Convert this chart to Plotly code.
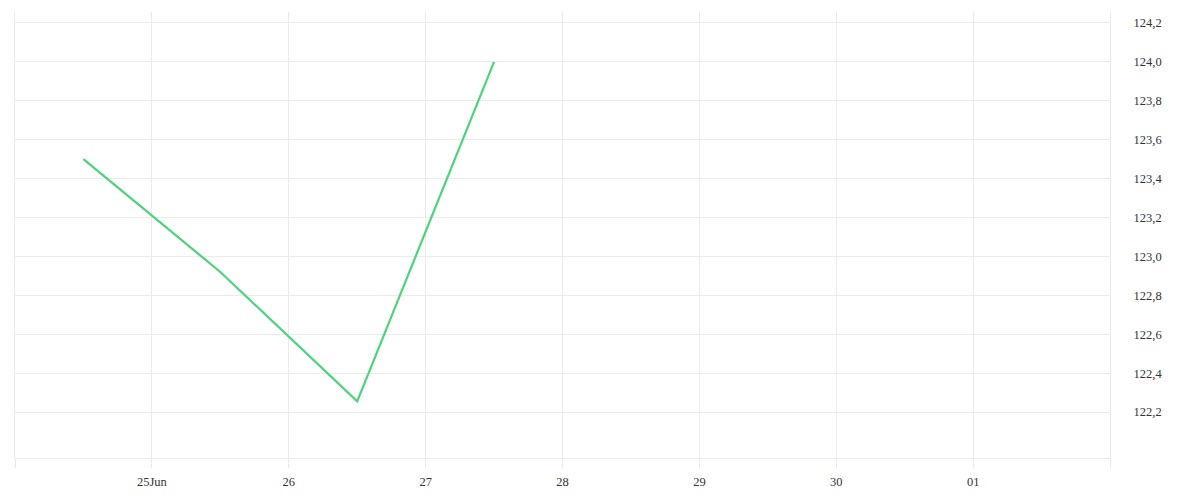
import plotly.graph_objects as go

dates = ["2024-06-24 12:00", "2024-06-25 12:00", "2024-06-26 12:00", "2024-06-27 12:00"]
values = [123.5, 122.92, 122.255, 124.0]

tick_dates = ["2024-06-24", "2024-06-25", "2024-06-26", "2024-06-27", "2024-06-28",
              "2024-06-29", "2024-06-30", "2024-07-01", "2024-07-02"]
tick_labels = ["", "25Jun", "26", "27", "28", "29", "30", "01", ""]
y_ticks = [122.2, 122.4, 122.6, 122.8, 123.0, 123.2, 123.4, 123.6, 123.8, 124.0, 124.2]

grid = "#ebebeb"
font = dict(family="Liberation Serif, DejaVu Serif, serif", size=12.5, color="#333333")

fig = go.Figure()
fig.add_trace(go.Scatter(x=dates, y=values, mode="lines",
                         line=dict(color="#4cd37c", width=2.2), hoverinfo="skip"))

fig.update_layout(
    width=1184, height=484,
    margin=dict(l=7, r=82, t=4, b=34),
    paper_bgcolor="white", plot_bgcolor="white",
    showlegend=False,
    separators=",.",
    font=font,
    xaxis=dict(
        type="date",
        range=["2024-06-24 00:00", "2024-07-02 00:00"],
        tickmode="array", tickvals=tick_dates, ticktext=tick_labels,
        showgrid=True, gridcolor=grid, gridwidth=1,
        ticks="outside", ticklen=9, tickcolor=grid, tickwidth=1,
        ticklabelstandoff=3,
        showline=True, linecolor=grid, linewidth=1,
        zeroline=False, tickfont=font,
    ),
    yaxis=dict(
        side="right",
        range=[121.964, 124.256],
        tickmode="array", tickvals=y_ticks,
        tickformat=".1f",
        showgrid=True, gridcolor=grid, gridwidth=1,
        ticks="", ticklabelstandoff=20,
        showline=True, mirror=True, linecolor=grid, linewidth=1,
        zeroline=False, tickfont=font,
    ),
)

fig.write_html("out.html")
